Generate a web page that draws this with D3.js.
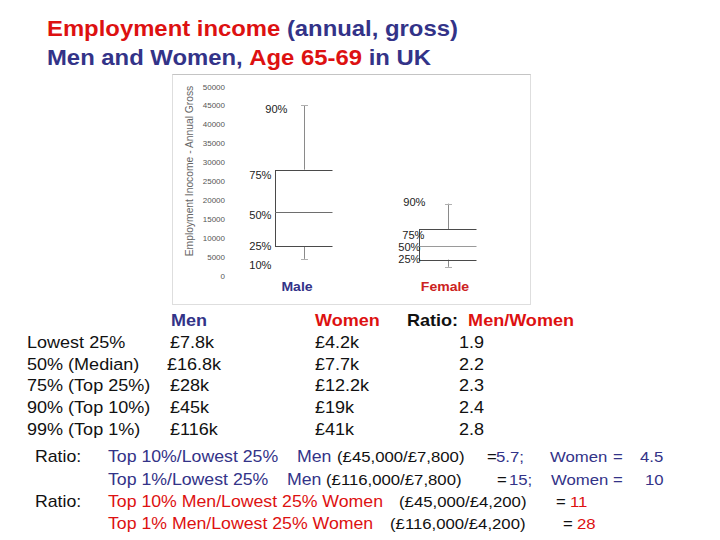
<!DOCTYPE html>
<html>
<head>
<meta charset="utf-8">
<script src="https://cdn.jsdelivr.net/npm/d3@7"></script>
<style>
  html, body { margin: 0; padding: 0; background: #fff; }
  svg text { font-family: "Liberation Sans", Arial, sans-serif; white-space: pre; }
</style>
</head>
<body>
<svg id="chart" width="720" height="540"></svg>
<script>
// ---- data ----
const categories = ["Male", "Female"];
const p10 = [4400, 2300];
const p25 = [7800, 4200];
const p50 = [16800, 7700];
const p75 = [28000, 12200];
const p90 = [45000, 19000];
const yTicks = [0, 5000, 10000, 15000, 20000, 25000, 30000, 35000, 40000, 45000, 50000];
const pctNames = ["10%", "25%", "50%", "75%", "90%"];
const yAxisTitle = "Employment Inocome - Annual Gross";

const rowLabels = ["Lowest 25%", "50% (Median)", "75% (Top 25%)", "90% (Top 10%)", "99% (Top 1%)"];
const menValues = ["£7.8k", "£16.8k", "£28k", "£45k", "£116k"];
const womenValues = ["£4.2k", "£7.7k", "£12.2k", "£19k", "£41k"];
const ratioValues = ["1.9", "2.2", "2.3", "2.4", "2.8"];

const BLUE = "#333388", RED = "#dd1111", BLACK = "#111";
const SX = 1.08;

const svg = d3.select("#chart");

function sText(parent, x, y, pieces, opt) {
  opt = opt || {};
  const g = parent.append("g").attr("transform", `translate(${x},${y}) scale(${opt.sx || SX},1)`);
  const t = g.append("text")
    .attr("font-size", opt.size || 16)
    .attr("font-weight", opt.weight || "normal")
    .attr("text-anchor", opt.anchor || "start");
  pieces.forEach(p => {
    t.append("tspan").attr("fill", p[1] || BLACK).text(p[0]);
  });
  return t;
}

// ---- title ----
sText(svg, 47, 36, [["Employment income", RED], [" (annual, gross)", BLUE]], {size: 22, weight: "bold", sx: 1.085});
sText(svg, 47, 64.5, [["Men and Women, ", BLUE], ["Age 65-69", RED], [" in UK", BLUE]], {size: 22, weight: "bold", sx: 1.085});

// ---- chart panel ----
svg.append("rect").attr("x", 172.5).attr("y", 74.5).attr("width", 358).attr("height", 230)
  .attr("fill", "#fff").attr("stroke", "#dedede");
svg.append("line").attr("x1", 172.5).attr("x2", 530.5).attr("y1", 74.5).attr("y2", 74.5).attr("stroke", "#c4c4c4");

const y = d3.scaleLinear().domain([0, 50000]).range([275.5, 86.5]);
const x = d3.scalePoint().domain(categories).range([304, 448]);
const boxW = 57;

// y axis (labels only)
const yAxis = d3.axisLeft(y).tickValues(yTicks).tickSize(0).tickPadding(0).tickFormat(d3.format("d"));
const ga = svg.append("g").attr("transform", "translate(225,0)").call(yAxis);
ga.select(".domain").remove();
ga.selectAll("text").attr("font-size", 8).attr("fill", "#555").attr("font-family", "Liberation Sans, Arial, sans-serif");

svg.append("text").attr("transform", "translate(193,171) rotate(-90)")
  .attr("text-anchor", "middle").attr("font-size", 10.3).attr("fill", "#666").text(yAxisTitle);

// boxes
const data = categories.map((c, i) => ({c, i, v: [p10[i], p25[i], p50[i], p75[i], p90[i]]}));
const medColor = ["#6e6e6e", "#9a9a9a"];
const boxes = svg.append("g").selectAll("g").data(data).join("g");
boxes.each(function(d) {
  const g = d3.select(this);
  const cx = x(d.c), left = cx - boxW / 2 - 0.5, right = cx + boxW / 2;
  // whiskers
  g.append("line").attr("x1", cx + 0.5).attr("x2", cx + 0.5).attr("y1", y(d.v[4])).attr("y2", y(d.v[3])).attr("stroke", "#8a8a8a");
  g.append("line").attr("x1", cx + 0.5).attr("x2", cx + 0.5).attr("y1", y(d.v[1])).attr("y2", y(d.v[0])).attr("stroke", "#8a8a8a");
  [d.v[4], d.v[0]].forEach(v => g.append("line").attr("x1", cx - 3).attr("x2", cx + 4)
    .attr("y1", Math.round(y(v)) + 0.5).attr("y2", Math.round(y(v)) + 0.5).attr("stroke", "#b0b0b0"));
  // box: top, bottom, left edge, median
  [d.v[3], d.v[1]].forEach(v => g.append("line").attr("x1", left).attr("x2", right)
    .attr("y1", Math.round(y(v)) + 0.5).attr("y2", Math.round(y(v)) + 0.5).attr("stroke", "#4a4a4a"));
  g.append("line").attr("x1", Math.round(left) + 0.5).attr("x2", Math.round(left) + 0.5)
    .attr("y1", Math.round(y(d.v[3])) + 0.5).attr("y2", Math.round(y(d.v[1])) + 0.5).attr("stroke", "#4a4a4a");
  g.append("line").attr("x1", left).attr("x2", right)
    .attr("y1", Math.round(y(d.v[2])) + 0.5).attr("y2", Math.round(y(d.v[2])) + 0.5).attr("stroke", medColor[d.i]);
});

// percentile labels (layout offsets, order p10..p90)
const lblDx = [[-4, -4, -4, -4, 12], [1, 1, 1, 5, 6]];
const lblDy = [[6.5, 0.5, 3, 6, 3.5], [0, 0, 1, 6, -1.3]];
data.forEach(d => {
  const left = x(d.c) - boxW / 2;
  pctNames.forEach((n, k) => {
    if (d.i === 1 && k === 0) return; // no 10% label for Female
    sText(svg, left + lblDx[d.i][k], y(d.v[k]) + lblDy[d.i][k] + 3.6, [[n, "#222"]],
      {size: 10.3, anchor: "end"});
  });
});

// category labels
const catColor = [BLUE, "#cc2222"];
const catDx = [-7, -3];
categories.forEach((c, i) => {
  sText(svg, x(c) + catDx[i], 290.5, [[c, catColor[i]]], {size: 13, weight: "bold", anchor: "middle"});
});

// ---- table ----
const rowBase = [348, 369.7, 391.4, 413.1, 434.8];
sText(svg, 171, 326, [["Men", BLUE]], {size: 16.7, weight: "bold"});
sText(svg, 315, 326, [["Women", RED]], {size: 16.7, weight: "bold"});
sText(svg, 407, 326, [["Ratio:  ", BLACK], ["Men/Women", RED]], {size: 16.7, weight: "bold"});
rowLabels.forEach((r, i) => {
  sText(svg, 27, rowBase[i], [[r]], {size: 16.7});
  sText(svg, i === 1 ? 167 : 170, rowBase[i], [[menValues[i]]], {size: 16.7});
  sText(svg, 315, rowBase[i], [[womenValues[i]]], {size: 16.7});
  sText(svg, 471.5, rowBase[i], [[ratioValues[i]]], {size: 16.7, anchor: "middle"});
});

// ---- bottom ratio lines ----
const FS = 16.4, FS2 = 15.5;
const lineBase = [462, 484.5, 507, 529];
sText(svg, 35, lineBase[0], [["Ratio:"]], {size: FS});
sText(svg, 35, lineBase[2], [["Ratio:"]], {size: FS});
const lines = [
  [[108, "Top 10%/Lowest 25%", BLUE, FS], [297, "Men", BLUE, FS], [337, "(£45,000/£7,800)", BLACK], [487, "=", BLACK],
   [496, "5.7;", BLUE], [550, "Women", BLUE], [613, "=", BLUE], [640, "4.5", BLUE]],
  [[108, "Top 1%/Lowest 25%", BLUE, FS], [287, "Men", BLUE, FS], [326, "(£116,000/£7,800)", BLACK], [497, "=", BLACK],
   [509, "15;", BLUE], [551, "Women", BLUE], [613, "=", BLUE], [645, "10", BLUE]],
  [[108, "Top 10% Men/Lowest 25% Women", RED, FS], [399, "(£45,000/£4,200)", BLACK], [556, "=", BLACK], [570, "11", RED]],
  [[108, "Top 1% Men/Lowest 25% Women", RED, FS], [390, "(£116,000/£4,200)", BLACK], [563, "=", BLACK], [577, "28", RED]]
];
lines.forEach((ln, i) => {
  ln.forEach(p => sText(svg, p[0], lineBase[i], [[p[1], p[2]]], {size: p[3] || FS2}));
});
</script>
</body>
</html>
